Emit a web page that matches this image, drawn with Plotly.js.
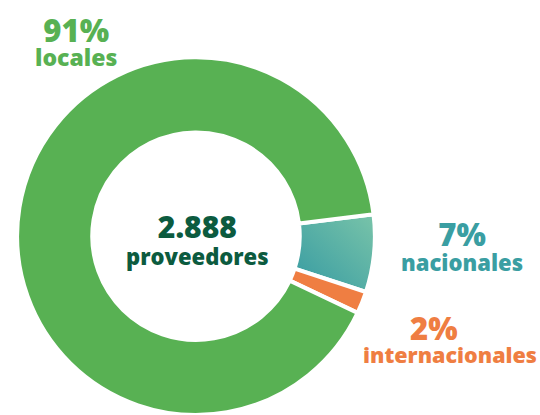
<!DOCTYPE html>
<html>
<head>
<meta charset="utf-8">
<script src="https://cdn.plot.ly/plotly-3.0.1.min.js"></script>
<style>html,body{margin:0;padding:0;background:#fff;overflow:hidden;}#chart{width:540px;height:415px;}</style>
</head>
<body>
<div id="chart"></div>
<script>
const categories = ["nacionales", "internacionales", "locales"];
const percents = [7, 2, 91];
const pctLabels = ["7%", "2%", "91%"];
const totalLabel = "2.888";
const totalUnit = "proveedores";
const colors = ["#4fada4", "#ef7e42", "#58b153"];

const W = 540, H = 415;
const FONT = "Open Sans, Lato, sans-serif";
function block(top, bottom, topSize, botSize, px, py, base, color, pad) {
  const padding = pad ? "<span style='font-size:" + topSize + "px'>" + pad + "</span>" : "";
  return {text: "<span style='font-size:" + topSize + "px'>" + top + "</span>" + padding +
                "<br><span style='font-size:" + botSize + "px'>" + bottom + "</span>",
    xref: "paper", yref: "paper", x: px / W, y: 1 - py / H,
    xanchor: "center", yanchor: "middle", showarrow: false, align: "center",
    font: {family: FONT, size: base, color: color, weight: 800}};
}

const trace = {
  type: "pie",
  labels: categories,
  values: percents,
  sort: false,
  direction: "clockwise",
  rotation: 83,
  hole: 0.58,
  textinfo: "none",
  hoverinfo: "none",
  marker: {colors: colors, line: {color: "#ffffff", width: 4}},
  domain: {x: [17 / W, 375 / W], y: [0, 0.862]}
};

const layout = {
  width: W, height: H,
  margin: {l: 0, r: 0, t: 0, b: 0},
  paper_bgcolor: "#ffffff",
  plot_bgcolor: "#ffffff",
  showlegend: false,
  annotations: [
    block(pctLabels[2], categories[2], 31, 23, 76, 41, 18.5, "#58b153"),
    block(pctLabels[0], categories[0], 31, 22, 462, 245, 19.2, "#3a9ea2"),
    block(pctLabels[1], categories[1], 31, 21.5, 450, 338, 17.7, "#ef7e42", "\u00a0\u00a0\u00a0\u00a0"),
    block(totalLabel, totalUnit, 30, 22, 197, 238, 20.8, "#0c5b3f")
  ]
};

Plotly.newPlot("chart", [trace], layout, {displayModeBar: false, staticPlot: true}).then(function (gd) {
  const svg = gd.querySelector(".main-svg");
  const ns = "http://www.w3.org/2000/svg";
  let defs = svg.querySelector("defs");
  if (!defs) { defs = document.createElementNS(ns, "defs"); svg.insertBefore(defs, svg.firstChild); }
  const g = document.createElementNS(ns, "linearGradient");
  g.setAttribute("id", "tealGrad");
  g.setAttribute("x1", "1"); g.setAttribute("y1", "0");
  g.setAttribute("x2", "0"); g.setAttribute("y2", "1");
  const s1 = document.createElementNS(ns, "stop");
  s1.setAttribute("offset", "0"); s1.setAttribute("stop-color", "#79c4a9");
  const s2 = document.createElementNS(ns, "stop");
  s2.setAttribute("offset", "1"); s2.setAttribute("stop-color", "#359aa2");
  g.appendChild(s1); g.appendChild(s2); defs.appendChild(g);
  const paths = gd.querySelectorAll(".slice path.surface");
  if (paths.length) paths[0].style.fill = "url(#tealGrad)";
});
</script>
</body>
</html>
